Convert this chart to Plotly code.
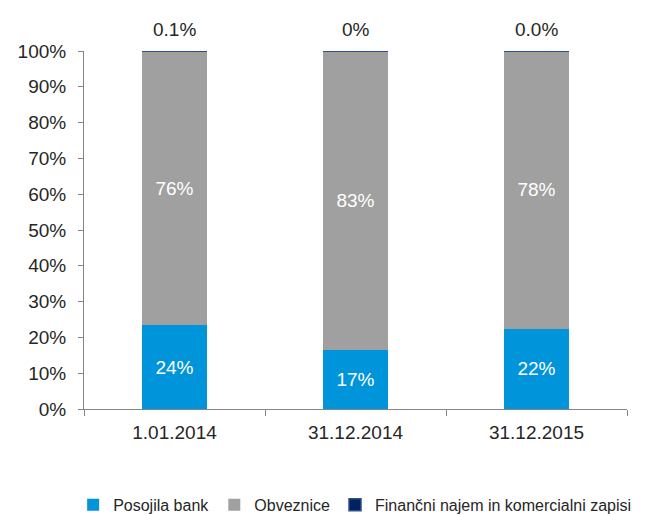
import plotly.graph_objects as go

# Data (shares of financing, %)
dates = ["1.01.2014", "31.12.2014", "31.12.2015"]
posojila_bank = [23.4, 16.6, 22.4]
obveznice = [76.5, 83.4, 77.56]
financni_najem = [0.1, 0.0, 0.04]

posojila_labels = ["24%", "17%", "22%"]
obveznice_labels = ["76%", "83%", "78%"]
najem_labels = ["0.1%", "0%", "0.0%"]

y_ticks = list(range(0, 101, 10))

FONT = "Liberation Sans, Arial, sans-serif"
TEXT = "#262626"
AXIS = "#868686"

fig = go.Figure()

fig.add_trace(go.Bar(
    name="Posojila bank",
    x=dates,
    y=posojila_bank,
    marker=dict(color="#0095DA", line=dict(width=0)),
    text=posojila_labels,
    textposition="inside",
    insidetextanchor="middle",
    textfont=dict(size=19, color="white", family=FONT),
    width=0.354,
))

fig.add_trace(go.Bar(
    name="Obveznice",
    x=dates,
    y=obveznice,
    marker=dict(color="#A0A0A0", line=dict(width=0)),
    text=obveznice_labels,
    textposition="inside",
    insidetextanchor="middle",
    textfont=dict(size=19, color="white", family=FONT),
    width=0.354,
))

fig.add_trace(go.Bar(
    name="Finančni najem in komercialni zapisi",
    x=dates,
    y=financni_najem,
    base=[b + o for b, o in zip(posojila_bank, obveznice)],
    marker=dict(color="#002060", line=dict(color="#2F4E8C", width=1.5)),
    width=0.354,
))

# value labels above the bars
for d, lbl in zip(dates, najem_labels):
    fig.add_annotation(
        x=d, y=100, text=lbl, showarrow=False,
        yanchor="middle", yshift=22,
        font=dict(size=19, color=TEXT, family=FONT),
    )

# page body adds an 8px offset, so the figure is 8px smaller
fig.update_layout(
    barmode="stack",
    width=645,
    height=507,
    plot_bgcolor="white",
    paper_bgcolor="white",
    font=dict(family=FONT, color=TEXT, size=18),
    margin=dict(l=76, r=26, t=43, b=106, autoexpand=False),
    xaxis=dict(
        showline=True,
        linecolor=AXIS,
        linewidth=1,
        ticks="outside",
        tickcolor=AXIS,
        ticklen=6,
        tickson="boundaries",
        tickfont=dict(size=19, color=TEXT),
        ticklabelstandoff=6,
        showgrid=False,
        automargin=False,
    ),
    yaxis=dict(
        range=[0, 100],
        tickvals=y_ticks,
        ticktext=[f"{v}%" for v in y_ticks],
        showline=True,
        linecolor=AXIS,
        linewidth=1,
        ticks="outside",
        tickcolor=AXIS,
        ticklen=5,
        tickfont=dict(size=19, color=TEXT),
        ticklabelstandoff=8,
        showgrid=False,
        zeroline=False,
        automargin=False,
    ),
    legend=dict(
        orientation="h",
        xref="paper",
        x=-0.02,
        xanchor="left",
        yref="paper",
        y=-0.22,
        yanchor="top",
        font=dict(size=16, color=TEXT),
        traceorder="normal",
        itemwidth=30,
        tracegroupgap=0,
    ),
)

fig.write_html("out.html")
